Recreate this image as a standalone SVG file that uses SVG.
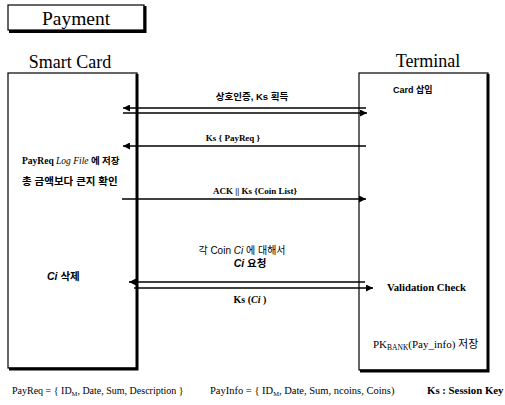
<svg xmlns="http://www.w3.org/2000/svg" width="505" height="405" viewBox="0 0 505 405">
<defs>
<marker id="ah" viewBox="0 0 10 10" refX="10" refY="5" markerWidth="9" markerHeight="7" markerUnits="userSpaceOnUse" orient="auto">
<path d="M0,0 L10,5 L0,10 z" fill="#000"/>
</marker>
</defs>
<style>
.box{fill:#fff;stroke:#000;stroke-width:1.2}
.shadow{stroke:#000;stroke-width:3;fill:none}
.title{font-family:"Liberation Serif",serif;font-size:18px;fill:#000}
.lbl{font-family:"Liberation Sans","Noto Sans CJK KR",sans-serif;font-size:9px;font-weight:bold;fill:#000}
.ser{font-family:"Liberation Serif","Noto Sans CJK KR",serif;font-size:9px;font-weight:bold;fill:#000}
.ko{font-family:"Liberation Sans","Noto Sans CJK KR",sans-serif;font-size:10.5px;fill:#000}
.foot{font-family:"Liberation Serif",serif;font-size:10px;fill:#000}
.msg{stroke:#000;stroke-width:1.3;fill:none}
</style>
<rect width="505" height="405" fill="#fff"/>
<g id="payment">
<rect class="box" x="8" y="5" width="136" height="25"/>
<path class="shadow" d="M145,6 V31.5 H9"/>
<text class="title" x="76" y="25" text-anchor="middle" style="font-size:19.5px">Payment</text>
</g>
<g id="smartcard">
<text class="title" x="70" y="68" text-anchor="middle">Smart Card</text>
<rect class="box" x="8" y="73" width="129" height="295"/>
<path class="shadow" d="M137,74 V369 H9"/>
<text class="ser" x="22" y="164" style="font-size:9.5px">PayReq <tspan style="font-style:italic;font-weight:normal">Log File</tspan> 에 저장</text>
<text class="lbl" x="22" y="185" style="font-size:10.5px">총 금액보다 큰지 확인</text>
<text class="ko" x="47" y="280" style="font-weight:bold"><tspan style="font-style:italic">Ci</tspan> 삭제</text>
</g>
<g id="terminal">
<text class="title" x="428" y="67" text-anchor="middle">Terminal</text>
<rect class="box" x="359" y="73" width="129" height="297"/>
<path class="shadow" d="M488,74 V371 H360"/>
<text class="lbl" x="393" y="93">Card 삽입</text>
<text class="ser" x="387" y="291" style="font-size:10.7px">Validation Check</text>
<text class="ser" x="373" y="348" style="font-size:11px;font-weight:normal">PK<tspan style="font-size:7.5px" dy="2">BANK</tspan><tspan dy="-2">(Pay_info) 저장</tspan></text>
</g>
<g id="connectors">
<line class="msg" x1="366" y1="108" x2="123" y2="108" marker-end="url(#ah)"/>
<line class="msg" x1="123" y1="113" x2="367" y2="113" marker-end="url(#ah)"/>
<text class="lbl" x="252" y="100" text-anchor="middle" style="font-size:9.5px">상호인증, Ks 획득</text>
<line class="msg" x1="366" y1="146" x2="123" y2="146" marker-end="url(#ah)"/>
<text class="ser" x="233" y="141" text-anchor="middle">Ks { PayReq }</text>
<line class="msg" x1="122" y1="199" x2="366" y2="199" marker-end="url(#ah)"/>
<text class="ser" x="255" y="194" text-anchor="middle">ACK || Ks {Coin List}</text>
<text class="ko" x="242" y="254" text-anchor="middle" style="font-size:10px">각 Coin <tspan style="font-style:italic">Ci</tspan> 에 대해서</text>
<text class="ko" x="250" y="267" text-anchor="middle" style="font-weight:bold"><tspan style="font-style:italic">Ci</tspan> 요청</text>
<line class="msg" x1="365" y1="282" x2="129" y2="282" marker-end="url(#ah)"/>
<line class="msg" x1="134" y1="288" x2="373" y2="288" marker-end="url(#ah)"/>
<text class="ser" x="250" y="303" text-anchor="middle" style="font-size:10px">Ks (<tspan style="font-style:italic">Ci</tspan> )</text>
</g>
<g id="legend">
<text class="foot" x="12" y="394">PayReq = { ID<tspan style="font-size:6.5px" dy="2">M</tspan><tspan dy="-2">, Date, Sum, Description }</tspan></text>
<text class="foot" x="210" y="394" style="font-size:10.5px">PayInfo = { ID<tspan style="font-size:6.5px" dy="2">M</tspan><tspan dy="-2">, Date, Sum, ncoins, Coins)</tspan></text>
<text class="foot" x="427" y="394" style="font-weight:bold;font-size:10.8px">Ks : Session Key</text>
</g>
</svg>
